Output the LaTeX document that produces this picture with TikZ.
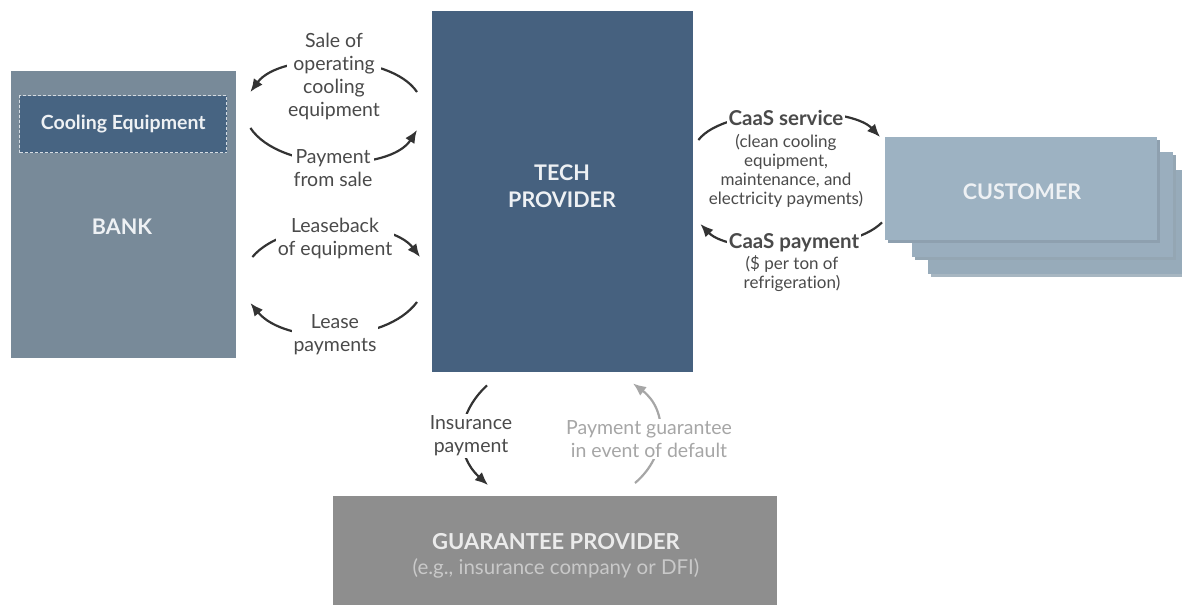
\documentclass[tikz,border=0pt]{standalone}
\usepackage{fontspec}
\setmainfont{Lato}[Ligatures=NoCommon]
\usetikzlibrary{arrows.meta,calc}
\definecolor{bankc}{HTML}{788A99}
\definecolor{coolc}{HTML}{476482}
\definecolor{techc}{HTML}{46617F}
\definecolor{custc}{HTML}{9DB2C2}
\definecolor{custsh}{HTML}{8196A6}
\definecolor{guarc}{HTML}{8E8E8E}
\definecolor{labc}{HTML}{4A4A4A}
\definecolor{arrc}{HTML}{333333}
\definecolor{lgrey}{HTML}{A6A6A6}
\definecolor{boxtxt}{HTML}{EEF1F4}
\begin{document}
\begin{tikzpicture}[x=1pt,y=-1pt,
  box/.style={draw=none, inner sep=0pt, anchor=north west, text=boxtxt, align=center},
  boxfont/.style={font=\fontsize{21.5}{27}\selectfont\bfseries},
  lbl/.style={fill=white, inner sep=1.5pt, align=center, text=labc, font=\fontsize{19.5}{23}\selectfont},
  small/.style={inner sep=1pt, align=center, text=labc, font=\fontsize{17}{19}\selectfont},
  arr/.style={draw=arrc, line width=2.2pt, -{Latex[length=13pt,width=11pt]}},
  garr/.style={draw=lgrey, line width=2.2pt, -{Latex[length=13pt,width=11pt]}}]
\useasboundingbox (0,0) rectangle (1182,605);
\fill[white] (0,0) rectangle (1182,605);

% boxes
\node[box, fill=bankc, minimum width=225pt, minimum height=287pt] (bank) at (11,71) {};
\node[box, fill=coolc, draw=boxtxt!85!coolc, line width=1.4pt, dash pattern=on 3pt off 2pt,
      minimum width=207pt, minimum height=57pt] (cool) at (19,95) {};
\node[text=boxtxt, font=\fontsize{19.5}{23}\selectfont\bfseries] (cooltxt) at (cool.center) {Cooling Equipment};
\node[boxfont, text=boxtxt] (banktxt) at (122,227) {BANK};
\node[box, fill=techc, minimum width=261pt, minimum height=361pt] (tech) at (432,11) {};
\node[boxfont, text=boxtxt, align=center] (techtxt) at (562,186) {TECH\\PROVIDER};

% customer stack
\fill[custsh!70!white] (931,173) rectangle (1182,277);
\node[box, fill=custc!96!black, minimum width=254pt, minimum height=104pt] (cust3) at (928,170) {};
\fill[custsh!85!white] (915,155) rectangle (1176,260);
\node[box, fill=custc!98!black, minimum width=261pt, minimum height=105pt] (cust2) at (912,152) {};
\fill[custsh!90!white] (888,140) rectangle (1160,243);
\node[box, fill=custc, minimum width=272pt, minimum height=103pt] (cust) at (885,137) {};
\node[boxfont, text=boxtxt] (custtxt) at (1022,192) {CUSTOMER};

\node[box, fill=guarc, minimum width=444pt, minimum height=109pt] (guar) at (333,496) {};
\node[inner sep=0pt, text=white!92!black, font=\fontsize{22}{25}\selectfont\bfseries] (guartxt) at (556,542) {GUARANTEE PROVIDER};
\node[inner sep=0pt, text=white!79!black, font=\fontsize{20.5}{23}\selectfont] (guarsub) at (556,568) {(e.g., insurance company or DFI)};

% arrows (drawn under the labels)
\draw[arr] ($(tech.north west)+(-15,81)$) .. controls (390,52) and (280,52) .. ($(bank.north east)+(14,21)$);
\draw[arr] ($(bank.north east)+(14,57)$) .. controls (280,172) and (390,172) .. ($(tech.north west)+(-15,119)$);
\draw[arr] ($(bank.north east)+(16,186)$) .. controls (285,218) and (390,218) .. ($(tech.north west)+(-12,246)$);
\draw[arr] ($(tech.north west)+(-15,291)$) .. controls (385,345) and (285,345) .. ($(bank.north east)+(14,232)$);
\draw[arr] ($(tech.north east)+(5,129)$) .. controls (725,105) and (850,105) .. ($(cust.north west)+(-5,0)$);
\draw[arr] ($(cust.south west)+(-3,-18)$) .. controls (850,255) and (730,255) .. ($(tech.north east)+(7,213)$);
\draw[arr] ($(tech.south west)+(55,13)$) .. controls (455,415) and (455,455) .. ($(guar.north west)+(155,-11)$);
\draw[garr] ($(guar.north west)+(302,-13)$) .. controls (668,455) and (668,410) .. ($(tech.south west)+(201,11)$);

% labels
\node[lbl] (l1) at (334,76) {Sale of\\operating\\cooling\\equipment};
\node[lbl] (l2) at (333,168) {Payment\\from sale};
\node[lbl] (l3) at (335,238) {Leaseback\\of equipment};
\node[lbl] (l4) at (335,335) {Lease\\payments};
\node[lbl, font=\fontsize{20.5}{23}\selectfont\bfseries] (l5) at (786,118) {CaaS service};
\node[small] (l5b) at (786,171) {(clean cooling\\equipment,\\maintenance, and\\electricity payments)};
\node[lbl, font=\fontsize{20.5}{23}\selectfont\bfseries] (l6) at (794,243) {CaaS payment};
\node[small] (l6b) at (792,274) {(\$ per ton of\\refrigeration)};
\node[lbl] (l7) at (471,436) {Insurance\\payment};
\node[lbl, text=lgrey] (l8) at (649,439) {Payment guarantee\\in event of default};
\end{tikzpicture}
\end{document}
